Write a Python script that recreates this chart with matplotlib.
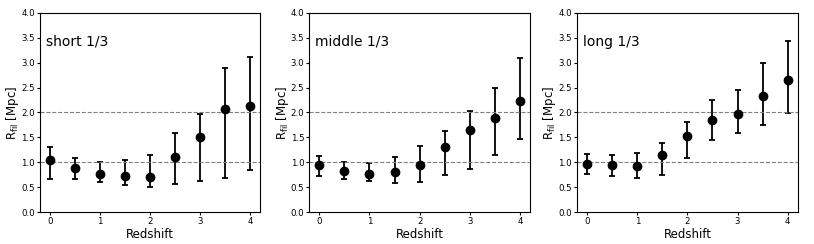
import numpy as np
import matplotlib
matplotlib.use("Agg")
import matplotlib.pyplot as plt

# redshift bins
z = [0, 0.5, 1, 1.5, 2, 2.5, 3, 3.5, 4]

# short 1/3 : value, lower end, upper end of error bar
short_val = [1.05, 0.89, 0.77, 0.72, 0.70, 1.11, 1.50, 2.07, 2.13]
short_lo = [0.67, 0.67, 0.61, 0.55, 0.50, 0.57, 0.62, 0.68, 0.84]
short_hi = [1.30, 1.09, 1.01, 1.05, 1.14, 1.59, 1.97, 2.89, 3.12]

# middle 1/3
middle_val = [0.95, 0.83, 0.77, 0.80, 0.95, 1.31, 1.64, 1.89, 2.24]
middle_lo = [0.72, 0.66, 0.62, 0.58, 0.61, 0.74, 0.86, 1.14, 1.47]
middle_hi = [1.13, 1.01, 0.98, 1.10, 1.32, 1.63, 2.02, 2.49, 3.09]

# long 1/3
long_val = [0.97, 0.95, 0.93, 1.14, 1.52, 1.84, 1.97, 2.33, 2.66]
long_lo = [0.76, 0.72, 0.68, 0.74, 1.08, 1.45, 1.58, 1.75, 1.99]
long_hi = [1.16, 1.15, 1.19, 1.39, 1.80, 2.26, 2.45, 3.00, 3.43]

labels = ["short 1/3", "middle 1/3", "long 1/3"]
panels = [(short_val, short_lo, short_hi),
          (middle_val, middle_lo, middle_hi),
          (long_val, long_lo, long_hi)]

fig = plt.figure(figsize=(8.14, 2.44), dpi=100)
lefts = [0.049, 0.380, 0.709]

for i in range(3):
    ax = fig.add_axes([lefts[i], 0.131, 0.271, 0.816])
    val, lo, hi = [np.array(a) for a in panels[i]]
    yerr = [val - lo, hi - val]
    ax.errorbar(z, val, yerr=yerr, fmt="o", color="k", ms=6,
                elinewidth=1.3, capsize=2, capthick=1.3)
    ax.axhline(1.0, color="gray", ls="--", lw=0.8)
    ax.axhline(2.0, color="gray", ls="--", lw=0.8)
    ax.set_ylim(0, 4)
    ax.set_yticks(np.arange(0, 4.01, 0.5))
    ax.set_xticks([0, 1, 2, 3, 4])
    ax.tick_params(labelsize=6.2, length=2.5, pad=1.2)
    ax.set_xlabel("Redshift", fontsize=8.5)
    ax.set_ylabel(r"R$_{\rm fil}$ [Mpc]", fontsize=8.5)
    ax.xaxis.set_label_coords(0.5, -0.078)
    ax.yaxis.set_label_coords(-0.085, 0.5)
    ax.text(0.027, 0.834, labels[i], transform=ax.transAxes, fontsize=10)

plt.savefig("out.png", dpi=100)
